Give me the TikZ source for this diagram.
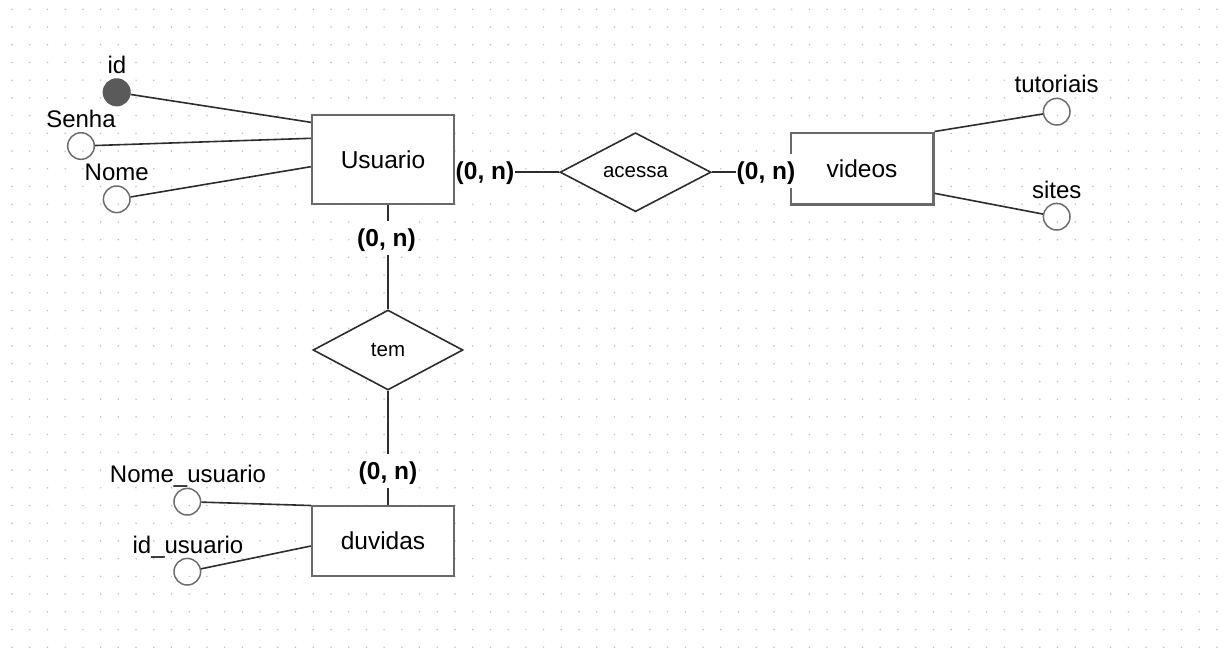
\documentclass[tikz,border=0pt]{standalone}
\usepackage{fontspec}
\setmainfont{Liberation Sans}
\usetikzlibrary{shapes.geometric}
\definecolor{boxc}{RGB}{105,105,105}
\definecolor{linec}{RGB}{45,45,45}
\definecolor{circc}{RGB}{110,110,110}
\definecolor{keyc}{RGB}{90,90,90}
\definecolor{dotc}{RGB}{190,190,190}
\tikzset{
 entity/.style={draw=boxc, line width=2.4pt, fill=white, rectangle, inner sep=0pt, font=\fontsize{24.5}{28}\selectfont},
 rel/.style={draw=linec, line width=1.6pt, fill=white, diamond, inner sep=0pt, font=\fontsize{20.5}{24}\selectfont},
 attr/.style={draw=circc, line width=1.5pt, circle, minimum size=26.6pt, inner sep=0pt},
 keyattr/.style={attr, draw=keyc, fill=keyc},
 attrtxt/.style={font=\fontsize{24}{28}\selectfont, inner sep=0pt, text height=17pt, text depth=5pt},
 card/.style={font=\bfseries\fontsize{24.5}{28}\selectfont, fill=white, inner xsep=1pt, inner ysep=5pt, text height=21pt, text depth=3pt},
 conn/.style={draw=linec, line width=1.6pt},
}
\begin{document}
\begin{tikzpicture}[x=1pt,y=-1pt]
\useasboundingbox (0,0) rectangle (1223,662);
\fill[white] (0,0) rectangle (1223,662);
% dot grid
\foreach \i in {0,...,68}{\foreach \j in {0,...,36}{\fill[dotc] ({12+17.72*\i},{9.3+17.72*\j}) circle (0.85pt);}}
% entities
\node[entity, minimum width=142pt, minimum height=89pt] (usu) at (383,159.5) {Usuario};
\node[entity, minimum width=142.6pt, minimum height=71.6pt] (vid) at (862,168.5) {videos};
\node[entity, minimum width=142pt, minimum height=70pt] (duv) at (383,541) {duvidas};
% relationships
\node[rel, minimum width=151pt, minimum height=79pt] (acessa) at (635.5,172.2) {acessa};
\node[rel, minimum width=150pt, minimum height=80pt] (tem) at (388,350) {tem};
% attributes
\node[keyattr] (aid) at (116.7,92.3) {};
\node[attr] (asenha) at (81,146) {};
\node[attr] (anome) at (116.7,199.3) {};
\node[attr] (atut) at (1056.7,111.7) {};
\node[attr] (asites) at (1056.7,216.7) {};
\node[attr] (anu) at (187.3,501.7) {};
\node[attr] (aidu) at (187.3,571.7) {};
\node[attrtxt] (tid) at (117,67.5) {id};
\node[attrtxt] (tsenha) at (81,121.5) {Senha};
\node[attrtxt] (tnome) at (116.7,174.3) {Nome};
\node[attrtxt] (ttut) at (1056.7,86) {tutoriais};
\node[attrtxt] (tsites) at (1056.7,192.5) {sites};
\node[attrtxt] (tnu) at (188,476) {Nome\_usuario};
\node[attrtxt] (tidu) at (188,547) {id\_usuario};
% attribute connectors
\draw[conn] (aid) -- ([yshift=37.2pt]usu.west);
\draw[conn] (asenha) -- ([yshift=21.2pt]usu.west);
\draw[conn] (anome) -- ([yshift=-7.2pt]usu.west);
\draw[conn] (atut) -- (vid.north east);
\draw[conn] (asites) -- ([yshift=-24.8pt]vid.east);
\draw[conn] (anu) -- ([yshift=-0.7pt]duv.north west);
\draw[conn] (aidu) -- ([yshift=-5pt]duv.west);
% relationship connectors
\draw[conn] (usu.east |- acessa.west) -- (acessa.west);
\draw[conn] (acessa.east) -- (acessa.east -| vid.west);
\draw[conn] (tem.north |- usu.south) -- (tem.north);
\draw[conn] (tem.south) -- (tem.south |- duv.north);
% cardinalities
\node[card] (c1) at (485,170.8) {(0, n)};
\node[card] (c2) at (766,170.8) {(0, n)};
\node[card] (c3) at (386.5,237.5) {(0, n)};
\node[card] (c4) at (388,470.5) {(0, n)};
\end{tikzpicture}
\end{document}
